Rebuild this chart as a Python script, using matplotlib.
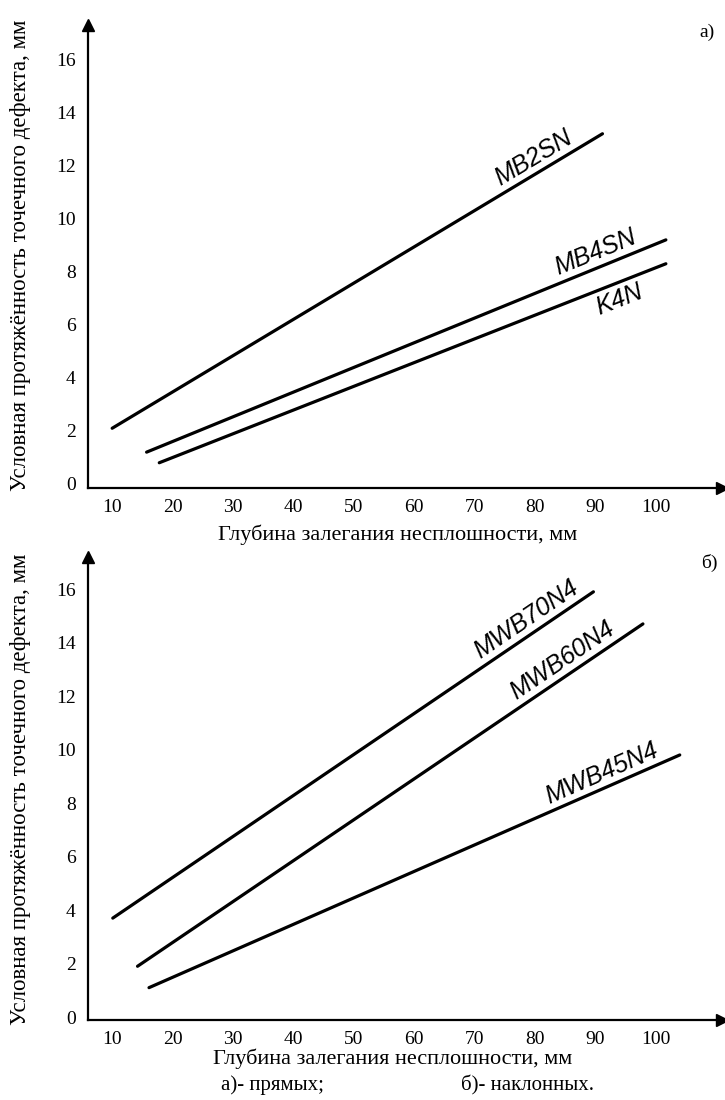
import math
import numpy as np
import matplotlib
matplotlib.use("Agg")
import matplotlib.pyplot as plt

plt.rcParams['font.family'] = ['Liberation Serif', 'DejaVu Serif']

# axis ticks
depth_ticks = [10, 20, 30, 40, 50, 60, 70, 80, 90, 100]
length_ticks = [0, 2, 4, 6, 8, 10, 12, 14, 16]

# a) straight probes: depth (mm) -> equivalent length (mm)
mb2sn_depth = [10.0, 91.2]
mb2sn_len = [2.1, 13.2]
mb4sn_depth = [15.7, 101.7]
mb4sn_len = [1.2, 9.2]
k4n_depth = [17.8, 101.7]
k4n_len = [0.8, 8.3]

# b) angle probes
mwb70_depth = [10.1, 89.7]
mwb70_len = [3.7, 15.9]
mwb60_depth = [14.2, 97.9]
mwb60_len = [1.9, 14.7]
mwb45_depth = [16.1, 104.0]
mwb45_len = [1.1, 9.8]

ylabel = "Условная протяжённость точечного дефекта, мм"
xlabel = "Глубина залегания несплошности, мм"

fig = plt.figure(figsize=(7.25, 11), dpi=100)
ax_a = fig.add_axes([0.1214, 0.5564, 0.8745, 0.4209])
ax_b = fig.add_axes([0.1214, 0.0727, 0.8745, 0.4209])


def setup(ax, ylim):
    ax.set_xlim(6, 111)
    ax.set_ylim(*ylim)
    ax.spines['top'].set_visible(False)
    ax.spines['right'].set_visible(False)
    ax.spines['left'].set_linewidth(1.6)
    ax.spines['bottom'].set_linewidth(1.6)
    ax.set_xticks(depth_ticks)
    ax.set_yticks(length_ticks)
    ax.tick_params(axis='x', length=0, labelsize=14, pad=8)
    ax.tick_params(axis='y', length=0, labelsize=14, pad=9)
    ax.plot(1, 0, ">k", ms=9, transform=ax.transAxes, clip_on=False)
    ax.plot(0, 1, "^k", ms=9, transform=ax.transAxes, clip_on=False)


def curve(ax, xs, ys, name, at, below=False):
    ax.plot(xs, ys, color='black', lw=2.3, solid_capstyle='round')
    p = ax.transData.transform(np.column_stack([xs, ys]))
    ang = math.degrees(math.atan2(p[1][1] - p[0][1], p[1][0] - p[0][0]))
    y = np.interp(at, xs, ys)
    d = -3 if below else 2
    off = (-math.sin(math.radians(ang)) * d, math.cos(math.radians(ang)) * d)
    ax.annotate(name, (at, y), xytext=off, textcoords='offset points',
                rotation=ang, rotation_mode='anchor', ha='center',
                va='top' if below else 'bottom', fontsize=18,
                family=['Liberation Sans', 'DejaVu Sans'], style='italic')


setup(ax_a, (-0.15, 17.3))
setup(ax_b, (-0.11, 17.2))

curve(ax_a, mb2sn_depth, mb2sn_len, "MB2SN", 81)
curve(ax_a, mb4sn_depth, mb4sn_len, "MB4SN", 91)
curve(ax_a, k4n_depth, k4n_len, "K4N", 93, below=True)

curve(ax_b, mwb70_depth, mwb70_len, "MWB70N4", 80)
curve(ax_b, mwb60_depth, mwb60_len, "MWB60N4", 86)
curve(ax_b, mwb45_depth, mwb45_len, "MWB45N4", 92)

fig.text(0.028, 0.768, ylabel, rotation=90, ha='center', va='center', fontsize=16.5)
fig.text(0.028, 0.282, ylabel, rotation=90, ha='center', va='center', fontsize=16.5)
fig.text(0.549, 0.5136, xlabel, ha='center', va='center', fontsize=16)
fig.text(0.542, 0.0373, xlabel, ha='center', va='center', fontsize=16)
fig.text(0.376, 0.0136, "а)- прямых;", ha='center', va='center', fontsize=15)
fig.text(0.727, 0.0136, "б)- наклонных.", ha='center', va='center', fontsize=15)
fig.text(0.975, 0.971, "а)", ha='center', va='center', fontsize=14)
fig.text(0.979, 0.488, "б)", ha='center', va='center', fontsize=14)

fig.savefig("out.png", dpi=100)
